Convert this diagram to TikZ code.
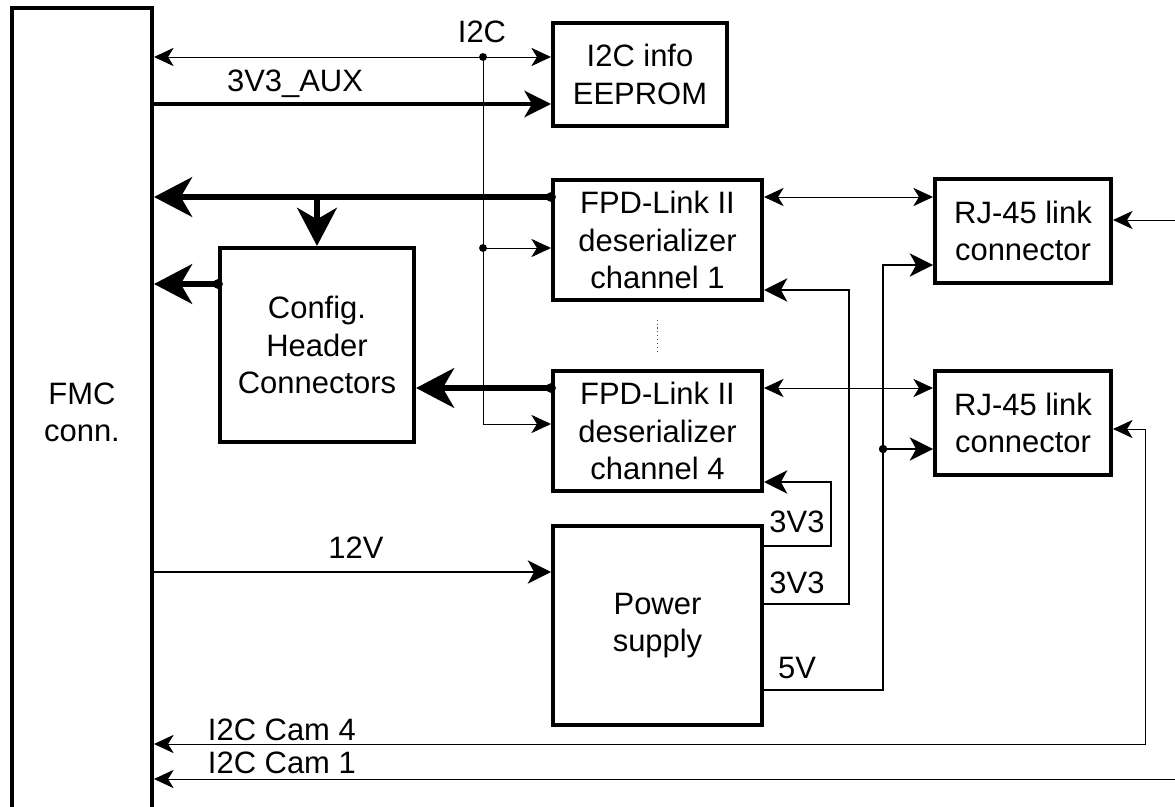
\documentclass[tikz,border=0pt]{standalone}
\usepackage{fontspec}
\setsansfont{Liberation Sans}
\usetikzlibrary{positioning,arrows.meta}

\begin{document}
\begin{tikzpicture}[x=0.025cm, y=-0.025cm, font={\sffamily\fontsize{22}{26.5}\selectfont},
	box/.style={rectangle, draw, line width=2.8pt, align=center, inner sep=0pt},
	sig/.style={line width=0.7pt, >={Stealth[length=14pt, width=13pt, inset=4pt]}},
	pwr/.style={line width=1.9pt, >={Stealth[length=16.5pt, width=16.5pt, inset=4.5pt]}},
	aux/.style={line width=2.5pt, >={Stealth[length=19pt, width=19pt, inset=5.5pt]}},
	bus/.style={line width=4.8pt, >={Stealth[length=27pt, width=28pt, inset=8pt]}}]

		% Rahmen festlegen
		\path[use as bounding box, fill=white] (0,0) rectangle (1175,807);

		% --- Bloecke ---
		\node[box, minimum width=3.5cm, minimum height=20.2cm] (fmc) at (82,412) {FMC\\conn.};
		\node[box, minimum width=4.35cm, minimum height=2.575cm] (eeprom) at (640,74.5) {I2C info\\EEPROM};
		\node[box, minimum width=5.225cm, minimum height=3cm] (fpd1) at (657.5,240) {FPD-Link II\\deserializer\\channel 1};
		\node[box, minimum width=5.225cm, minimum height=3cm, below=1.68cm of fpd1] (fpd4) {FPD-Link II\\deserializer\\channel 4};
		\node[box, minimum width=5.225cm, minimum height=4.975cm, below=0.78cm of fpd4] (psu) {Power\\supply};
		\node[box, minimum width=4.85cm, minimum height=4.85cm] (cfg) at (317,345) {Config.\\Header\\Connectors};
		\node[box, minimum width=4.4cm, minimum height=2.6cm] (rj1) at (1023,231) {RJ-45 link\\connector};
		\node[box, minimum width=4.4cm, minimum height=2.6cm, below=2.1cm of rj1] (rj2) {RJ-45 link\\connector};

		% Hilfskoordinaten (Zeilen und Spalten)
		\coordinate (yi2c) at (0,57);
		\coordinate (yaux) at (0,104);
		\coordinate (ybus1) at (0,197);
		\coordinate (yi2c1) at (0,248);
		\coordinate (ycfg) at (0,284);
		\coordinate (ybus4) at (0,388);
		\coordinate (yi2c4) at (0,424);
		\coordinate (yrj1in) at (0,220);
		\coordinate (yrj2in) at (0,429);
		\coordinate (yrj1pwr) at (0,265);
		\coordinate (yrj2pwr) at (0,449);
		\coordinate (yfpd1in) at (0,290);
		\coordinate (yfpd4in) at (0,482);
		\coordinate (y12v) at (0,572);
		\coordinate (y3v3a) at (0,546);
		\coordinate (y3v3b) at (0,604);
		\coordinate (y5v) at (0,690);
		\coordinate (ycam4) at (0,744);
		\coordinate (ycam1) at (0,779);
		\coordinate (xi2c) at (483,0);
		\coordinate (x3v3a) at (831,0);
		\coordinate (x3v3b) at (849,0);
		\coordinate (x5v) at (883,0);
		\coordinate (xcam4) at (1145,0);
		\coordinate (xcam1) at (1190,0);

		% --- I2C ---
		\draw[sig, <->] (fmc.east |- yi2c) -- (eeprom.west |- yi2c);
		\draw[sig] (xi2c |- yi2c) -- (xi2c |- yi2c4);
		\draw[sig, ->] (xi2c |- yi2c1) -- (fpd1.west |- yi2c1);
		\draw[sig, ->] (xi2c |- yi2c4) -- (fpd4.west |- yi2c4);
		\fill (xi2c |- yi2c) circle (2.8pt);
		\fill (xi2c |- yi2c1) circle (2.8pt);
		\node[anchor=base] (li2c) at (482,43) {I2C};

		% --- 3V3_AUX ---
		\draw[aux, ->] (fmc.east |- yaux) -- (eeprom.west |- yaux);
		\node[anchor=base] (laux) at (295,92) {3V3\_AUX};

		% --- Datenbusse ---
		\draw[bus, ->] (fpd1.west |- ybus1) -- (fmc.east |- ybus1);
		\draw[bus, ->] (cfg.north |- ybus1) -- (cfg.north);
		\draw[bus, ->] (cfg.west |- ycfg) -- (fmc.east |- ycfg);
		\draw[bus, ->] (fpd4.west |- ybus4) -- (cfg.east |- ybus4);
		\fill (fpd1.west |- ybus1) circle (3.5pt);
		\fill (cfg.west |- ycfg) circle (3.5pt);
		\fill (fpd4.west |- ybus4) circle (3.5pt);
		\draw[dotted, line width=0.8pt, black!70, shorten >=12.5pt, shorten <=12.5pt] (fpd1.south) -- (fpd4.north);

		% --- Links zu RJ-45 ---
		\draw[sig, <->] (fpd1.east |- ybus1) -- (rj1.west |- ybus1);
		\draw[sig, <->] (fpd4.east |- ybus4) -- (rj2.west |- ybus4);

		% --- Versorgung ---
		\draw[pwr, ->] (fmc.east |- y12v) -- (psu.west |- y12v);
		\node[anchor=base] (l12v) at (356,558) {12V};
		\draw[pwr, ->] (psu.east |- y3v3a) -| (x3v3a |- yfpd4in) -- (fpd4.east |- yfpd4in);
		\draw[pwr, ->] (psu.east |- y3v3b) -| (x3v3b |- yfpd1in) -- (fpd1.east |- yfpd1in);
		\draw[pwr, ->] (psu.east |- y5v) -| (x5v |- yrj1pwr) -- (rj1.west |- yrj1pwr);
		\draw[pwr, ->] (x5v |- yrj2pwr) -- (rj2.west |- yrj2pwr);
		\fill (x5v |- yrj2pwr) circle (3pt);
		\node[anchor=base] (l3v3a) at (797,532) {3V3};
		\node[anchor=base] (l3v3b) at (797,593) {3V3};
		\node[anchor=base] (l5v) at (797,678) {5V};

		% --- I2C der Kameras ---
		\draw[sig, <->] (fmc.east |- ycam4) -| (xcam4 |- yrj2in) -- (rj2.east |- yrj2in);
		\draw[sig, <->] (fmc.east |- ycam1) -| (xcam1 |- yrj1in) -- (rj1.east |- yrj1in);
		\node[anchor=base west] (lcam4) at (203,740) {I2C Cam 4};
		\node[anchor=base west] (lcam1) at (203,773) {I2C Cam 1};

	\end{tikzpicture}
\end{document}
